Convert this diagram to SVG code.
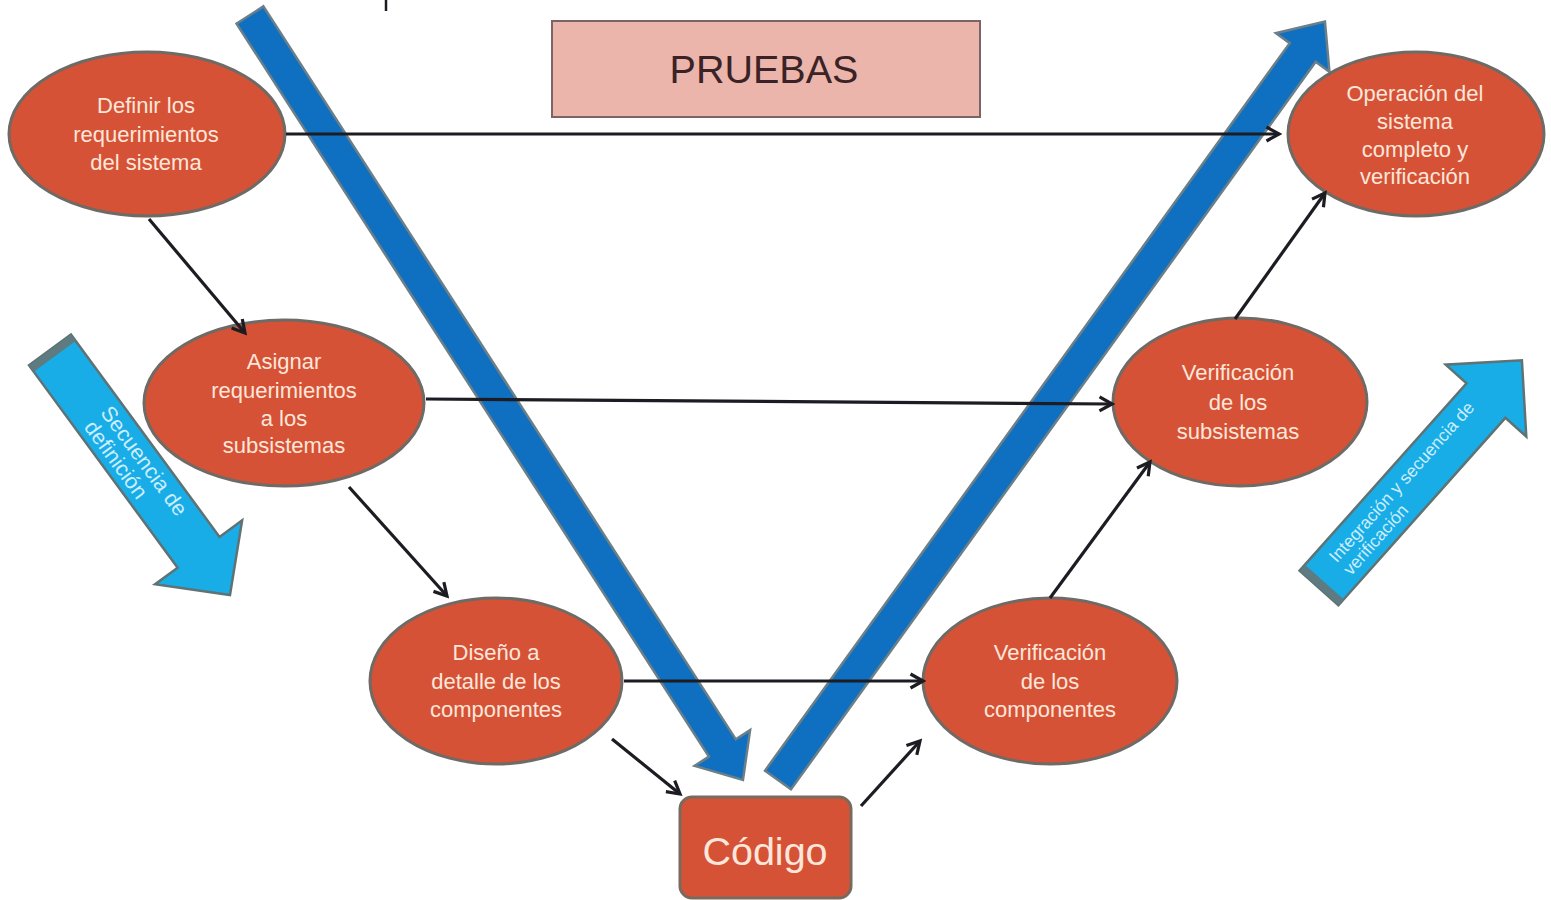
<svg xmlns="http://www.w3.org/2000/svg" width="1551" height="900" viewBox="0 0 1551 900">
<defs>
<style>
.node ellipse{fill:#d55236;stroke:#6e6a66;stroke-width:3}
.nt{font-family:"Liberation Sans",Arial,sans-serif;font-size:22px;fill:#fde6da;text-anchor:middle}
.bar{fill:#0f6fc1;stroke:#6b7f88;stroke-width:2.5;stroke-linejoin:miter}
.cyan{fill:#19ade8;stroke:#5f7274;stroke-width:2.5}
.band{fill:#5e7b82}
.ct{font-family:"Liberation Sans",Arial,sans-serif;fill:#cdeefc}
.conn line{stroke:#1c1c22;stroke-width:3.2;fill:none;marker-end:url(#ah)}
</style>
<marker id="ah" viewBox="0 0 18 18" refX="15" refY="9" markerWidth="18" markerHeight="18" markerUnits="userSpaceOnUse" orient="auto">
<path d="M2.5,2 L15,9 L2.5,16" fill="none" stroke="#1c1c22" stroke-width="3.2"/>
</marker>
</defs>
<rect width="1551" height="900" fill="#ffffff"/>
<line x1="386" y1="0" x2="386" y2="11" stroke="#1c1c22" stroke-width="2.5"/>

<g id="bar-left">
<polygon class="bar" transform="translate(250,15) rotate(57.2)" points="0,-16 872,-16 872,-33 910,0 872,33 872,16 0,16"/>
</g>
<g id="bar-right">
<polygon class="bar" transform="translate(778,780) rotate(-54.2)" points="0,-16 897,-16 897,-33 935,0 897,33 897,16 0,16"/>
</g>

<g id="arrow-definicion" transform="translate(50,350) rotate(53.7)">
<polygon class="cyan" points="0,-26 251,-26 251,-54 304,0 251,54 251,26 0,26"/>
<rect class="band" x="0" y="-26" width="8" height="52"/>
<text class="ct" font-size="21.5" x="80" y="-3">Secuencia de</text>
<text class="ct" font-size="21.5" x="82" y="19">definición</text>
</g>
<g id="arrow-integracion" transform="translate(1319,588) rotate(-48.3)">
<polygon class="cyan" points="0,-26 251,-26 251,-54 305,0 251,54 251,26 0,26"/>
<rect class="band" x="0" y="-26" width="8" height="52"/>
<text class="ct" font-size="17.5" x="30" y="-3">Integración y secuencia de</text>
<text class="ct" font-size="17.5" x="30" y="16">verificación</text>
</g>

<g id="pruebas">
<rect x="552" y="21" width="428" height="96" fill="#ebb5ab" stroke="#7c6464" stroke-width="2"/>
<text x="764" y="83" font-family="'Liberation Sans',Arial,sans-serif" font-size="39.5" fill="#3a2226" text-anchor="middle">PRUEBAS</text>
</g>

<g id="n1" class="node">
<ellipse cx="147" cy="134" rx="138" ry="82"/>
<text class="nt" x="146" y="113">Definir los</text>
<text class="nt" x="146" y="142">requerimientos</text>
<text class="nt" x="146" y="170">del sistema</text>
</g>
<g id="n2" class="node">
<ellipse cx="284" cy="403" rx="140" ry="83"/>
<text class="nt" x="284" y="369">Asignar</text>
<text class="nt" x="284" y="398">requerimientos</text>
<text class="nt" x="284" y="426">a los</text>
<text class="nt" x="284" y="453">subsistemas</text>
</g>
<g id="n3" class="node">
<ellipse cx="496" cy="681" rx="126" ry="83"/>
<text class="nt" x="496" y="660">Diseño a</text>
<text class="nt" x="496" y="689">detalle de los</text>
<text class="nt" x="496" y="717">componentes</text>
</g>
<g id="n4" class="node">
<ellipse cx="1050" cy="681" rx="127" ry="83"/>
<text class="nt" x="1050" y="660">Verificación</text>
<text class="nt" x="1050" y="689">de los</text>
<text class="nt" x="1050" y="717">componentes</text>
</g>
<g id="n5" class="node">
<ellipse cx="1240" cy="402" rx="127" ry="84"/>
<text class="nt" x="1238" y="380">Verificación</text>
<text class="nt" x="1238" y="410">de los</text>
<text class="nt" x="1238" y="439">subsistemas</text>
</g>
<g id="n6" class="node">
<ellipse cx="1416" cy="134" rx="128" ry="82"/>
<text class="nt" x="1415" y="101">Operación del</text>
<text class="nt" x="1415" y="129">sistema</text>
<text class="nt" x="1415" y="157">completo y</text>
<text class="nt" x="1415" y="184">verificación</text>
</g>
<g id="codigo">
<rect x="680" y="797" width="171" height="101" rx="12" fill="#d55236" stroke="#7a6a5e" stroke-width="3"/>
<text x="765" y="865" font-family="'Liberation Sans',Arial,sans-serif" font-size="39.5" fill="#fde6da" text-anchor="middle">Código</text>
</g>

<g id="connectors" class="conn">
<line x1="286" y1="134" x2="1279" y2="134"/>
<line x1="149" y1="219" x2="245" y2="333"/>
<line x1="426" y1="399" x2="1112" y2="404"/>
<line x1="349" y1="487" x2="447" y2="596"/>
<line x1="624" y1="681" x2="923" y2="681"/>
<line x1="612" y1="739" x2="680" y2="794"/>
<line x1="861" y1="806" x2="920" y2="741"/>
<line x1="1050" y1="598" x2="1150" y2="462"/>
<line x1="1235" y1="319" x2="1325" y2="193"/>
</g>
</svg>
